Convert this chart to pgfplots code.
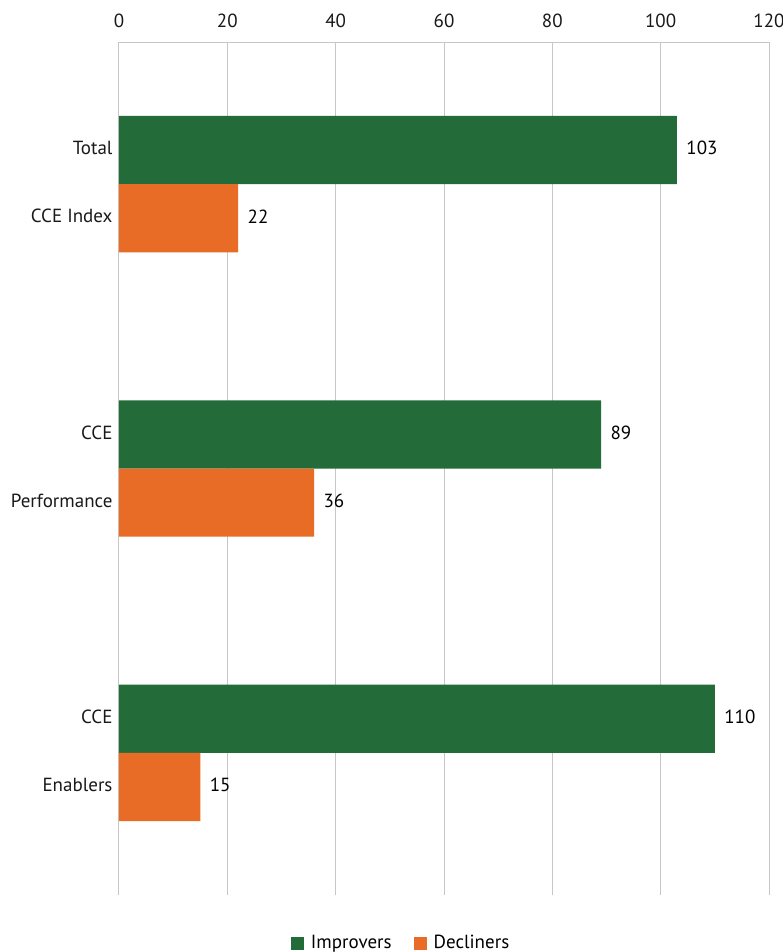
\documentclass[border=0pt]{standalone}
\usepackage{fontspec}
\setmainfont{PT Sans}
\usepackage{pgfplots}
\pgfplotsset{compat=1.18}
\usetikzlibrary{calc}
\definecolor{impr}{HTML}{246B3A}
\definecolor{decl}{HTML}{E86C26}
\definecolor{gridc}{HTML}{C6C6C6}
\begin{document}
\fontsize{19}{22}\selectfont
\begin{tikzpicture}
\begin{axis}[name=ax,
  scale only axis, width=650pt, height=853pt,
  xmin=0, xmax=120, ymin=-0.5, ymax=2.5, y dir=reverse,
  xbar, bar width=0.24, bar shift=0,
  axis x line*=top, axis y line*=left,
  x axis line style={gridc, line width=1pt, -},
  y axis line style={draw=none},
  xtick={0,20,...,120}, xmajorgrids, grid style={gridc, line width=1pt},
  major tick length=0pt,
  ytick={-0.12,0.12,0.88,1.12,1.88,2.12},
  yticklabels={Total, CCE Index, CCE, Performance, CCE, Enablers},
  /pgf/number format/assume math mode=true,
  tick label style={font=\fontsize{19}{22}\selectfont, text=black!90},
  xticklabel style={yshift=8pt},
  yticklabel style={yshift=2pt},
  nodes near coords, every node near coord/.append style={text=black, font=\fontsize{19}{22}\selectfont, anchor=west, xshift=3pt, yshift=2pt},
  legend style={at={(0.434,-0.0563)}, anchor=center, draw=none, legend columns=2, font=\fontsize{19}{22}\selectfont,
    /tikz/every even column/.append style={column sep=20pt}},
]
\addplot[fill=impr, draw=none, legend image code/.code={\fill[impr] (0pt,-6.5pt) rectangle (13pt,6.5pt); \path (18pt,0pt);}]
  coordinates {(103,-0.12) (89,0.88) (110,1.88)};
\addlegendentry{Improvers}
\addplot[fill=decl, draw=none, legend image code/.code={\fill[decl] (0pt,-6.5pt) rectangle (13pt,6.5pt); \path (18pt,0pt);}]
  coordinates {(22,0.12) (36,1.12) (15,2.12)};
\addlegendentry{Decliners}
\end{axis}
\pgfresetboundingbox
\path[use as bounding box] ($(ax.south west)+(-119pt,-57pt)$) rectangle ($(ax.north east)+(14pt,42pt)$);
\end{tikzpicture}
\end{document}
